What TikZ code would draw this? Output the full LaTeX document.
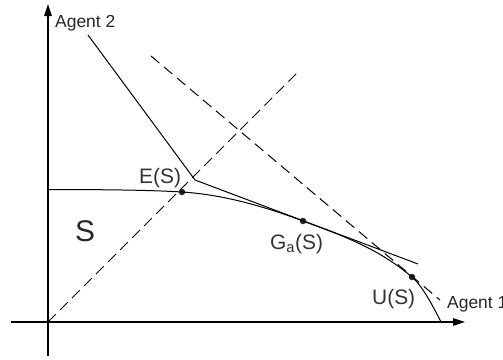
\documentclass[tikz,border=0pt]{standalone}
\usepackage{fontspec}
\setmainfont{Liberation Sans}
\usetikzlibrary{arrows.meta}
\begin{document}
\begin{tikzpicture}[x=1bp,y=-1bp,
  axis/.style={line width=1.2bp,-{Triangle[length=12bp,width=7.5bp]}},
  solidline/.style={line width=1bp,line join=miter},
  dashline/.style={line width=1bp,dash pattern=on 11bp off 6bp},
  dot/.style={circle,fill=black!85,inner sep=0pt,minimum size=6.5bp},
  agentlab/.style={font=\fontsize{17.5}{20}\selectfont,inner sep=0pt,text=black!85},
  ptlab/.style={font=\fontsize{21}{24}\selectfont,inner sep=0pt,text=black!80},
  biglab/.style={font=\fontsize{30}{34}\selectfont,inner sep=0pt,text=black!85}]
\useasboundingbox (0,0) rectangle (503,359);
% axes
\coordinate (Xs) at (11,322);
\coordinate (Xe) at (465,322);
\coordinate (Ys) at (48,356);
\coordinate (Ye) at (48,4);
\coordinate (O) at (48,322);
\draw[axis] (Xs) -- (Xe);
\draw[axis] (Ys) -- (Ye);
% points
\node[dot] (E) at (182,192) {};
\node[dot] (G) at (303,221) {};
\node[dot] (U) at (412,277) {};
% frontier
\coordinate (F0) at (48,189.5);
\coordinate (F1) at (441,322);
\draw[solidline] (F0) .. controls (100,189.5) and (150,190) .. (E.center)
  .. controls (222,194.5) and (263,205.9) .. (G.center)
  .. controls (339,234.6) and (376,246.6) .. (U.center)
  .. controls (422,285.5) and (433,306) .. (F1);
% kinked solid line with tangent
\coordinate (T0) at (88,35);
\coordinate (K) at (195,180);
\coordinate (T1) at (418,264);
\draw[solidline] (T0) -- (K) -- (T1);
% dashed lines
\coordinate (D1) at (299,71);
\draw[dashline] (O) -- (D1);
\coordinate (D2a) at (151,56);
\coordinate (D2b) at (440,300);
\draw[dashline] (D2a) -- (D2b);
% labels
\node[agentlab,anchor=base west] (A2) at (55,27) {Agent 2};
\node[agentlab,anchor=base west] (A1) at (447,308) {Agent 1};
\node[ptlab,anchor=base west] (ES) at (139,183) {E(S)};
\node[ptlab,anchor=base west] (GS) at (270,249) {G\textsubscript{a}(S)};
\node[ptlab,anchor=base west] (US) at (372,304) {U(S)};
\node[biglab] (S) at (85,231) {S};
\end{tikzpicture}
\end{document}
